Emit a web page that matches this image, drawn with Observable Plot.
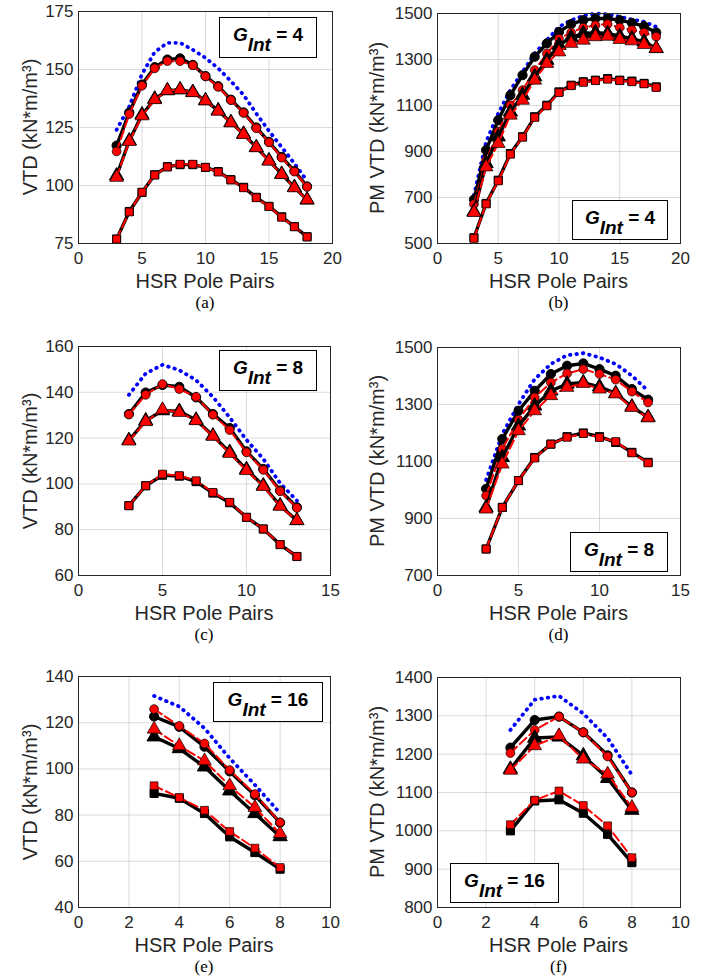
<!DOCTYPE html>
<html>
<head>
<meta charset="utf-8">
<script src="https://cdn.jsdelivr.net/npm/d3@7"></script>
<script src="https://cdn.jsdelivr.net/npm/@observablehq/plot@0.6"></script>
<style>
  body { margin: 0; background: #fff; }
  #page { position: relative; width: 710px; height: 979px; overflow: hidden; background: #fff;
          font-family: "Liberation Sans", Arial, sans-serif; }
  .panel { position: absolute; }
  .xlab, .ylab { position: absolute; font-size: 20px; color: #262626;
                 text-align: center; white-space: nowrap; }
  .xlab { line-height: 15px; }
  .ylab { width: 300px; line-height: 20px; transform: rotate(-90deg); }
  .caption { position: absolute; width: 60px; text-align: center; font-size: 17px; line-height: 14px;
             font-family: "Liberation Serif", "Times New Roman", serif; color: #000; }
  .gbox { position: absolute; box-sizing: border-box; border: 1.5px solid #000; background: #fff;
          display: flex; justify-content: center; align-items: flex-start; padding-top: 7px;
          font-weight: bold; font-size: 19px; line-height: 19px; color: #000; white-space: pre; }
  .gbox .g { font-style: italic; }
  .gbox .sub { font-style: italic; position: relative; top: 10px; }
</style>
</head>
<body>
<div id="page"></div>
<script>
// ---------------- data ----------------
const xLabel = "HSR Pole Pairs";
const vtdLabel = "VTD (kN*m/m³)";
const pmLabel = "PM VTD (kN*m/m³)";

// G_Int = 4
const x4 = [3,4,5,6,7,8,9,10,11,12,13,14,15,16,17,18];
const xTicks4 = [0,5,10,15,20];
const aTicks = [75,100,125,150,175];
const aBlue        = [124,134,148,157.5,161.5,161.5,158.5,155,150.5,145,139,131,123.5,116.5,109.5,102];
const aBlackCircle = [117.2,131.5,143.5,151,154.3,154.8,152,147.2,142.8,137,131.5,125,118.8,112.3,106.2,99.6];
const aRedCircle   = [114.7,130.8,143,150.5,153.6,153.6,151.8,147,142.5,136.8,131.3,124.7,118.6,112,106,99.4];
const aBlackTri    = [104.2,119.3,130.5,137.3,140.9,141.3,140.2,136.6,132.3,127.2,122.2,116.4,110.7,104.9,99.2,93.8];
const aRedTri      = [103.5,119,130,137,140.9,141.3,140,136.5,132,127,122,116.3,110.5,104.7,99,93.8];
const aBlackSq     = [76.9,88.8,97,104.6,108.1,109,109,107.8,106,102.5,99.2,94.9,91,86.5,82.3,77.9];
const aRedSq       = [76.9,88.6,97.1,104.5,108,109.2,109.2,107.8,105.8,102.4,99,94.7,90.9,86.3,82.2,77.8];

const bTicks = [500,700,900,1100,1300,1500];
const bBlue        = [710,942,1065,1167,1246,1326,1384,1442,1471,1490,1500,1497,1486,1474,1464,1442];
const bBlackCircle = [691,906,1036,1145,1232,1312,1370,1420,1454,1471,1478,1478,1471,1459,1445,1417];
const bRedCircle   = [671,862,986,1101,1167,1254,1326,1391,1417,1439,1449,1454,1439,1428,1417,1399];
const bBlackTri    = [638,848,964,1072,1145,1225,1297,1362,1396,1413,1417,1413,1401,1391,1377,1348];
const bRedTri      = [635,833,935,1058,1123,1210,1283,1333,1370,1384,1399,1401,1387,1381,1365,1348];
const bBlackSq     = [525,674,775,891,964,1051,1101,1159,1188,1203,1210,1217,1210,1206,1196,1181];
const bRedSq       = [522,672,772,888,962,1048,1098,1156,1186,1201,1208,1214,1208,1203,1194,1178];

// G_Int = 8
const x8 = [3,4,5,6,7,8,9,10,11,12,13];
const xTicks8 = [0,5,10,15];
const cTicks = [60,80,100,120,140,160];
const cBlue        = [138.9,148.2,152,149.7,145.3,138,129,119.2,110.9,100.3,92.7];
const cBlackCircle = [130.5,139.9,143.2,142.4,137.8,130.5,124.4,114.2,106.5,97.1,89.8];
const cRedCircle   = [130.3,138.9,143.6,141.4,138,130.2,123.5,113.8,106.1,96.8,89.5];
const cBlackTri    = [119,127.6,132,131.7,127.9,121,113.8,106.3,99.2,90.5,84];
const cRedTri      = [118.7,127.2,132.4,131.2,127.6,120.8,113.3,105.8,98.9,90.2,84];
const cBlackSq     = [90.5,99.2,103.8,103.4,101,96,91.8,85.4,80.3,73.5,68.3];
const cRedSq       = [90.5,99.2,104.3,103.6,101.4,96.3,92,85.4,80.3,73.5,68.3];

const dTicks = [700,900,1100,1300,1500];
const dBlue        = [1035,1196,1301,1389,1442,1473,1480,1465,1442,1401,1348];
const dBlackCircle = [1004,1179,1278,1348,1407,1436,1444,1424,1401,1354,1317];
const dRedCircle   = [980,1144,1246,1325,1377,1409,1424,1407,1387,1345,1307];
const dBlackTri    = [938,1114,1225,1295,1348,1372,1377,1362,1339,1292,1255];
const dRedTri      = [933,1091,1208,1278,1331,1360,1374,1354,1337,1290,1253];
const dBlackSq     = [793,939,1033,1114,1161,1187,1200,1187,1167,1132,1097];
const dRedSq       = [793,939,1033,1112,1161,1185,1198,1184,1170,1130,1095];

// G_Int = 16
const x16 = [3,4,5,6,7,8];
const xTicks16 = [0,2,4,6,8,10];
const eTicks = [40,60,80,100,120,140];
const eBlue        = [131.6,127,117.6,104.6,93.1,80.8];
const eBlackCircle = [122.7,118.2,109.6,98.9,88.6,76.7];
const eRedCircle   = [125.9,118.6,111,99.5,89.1,76.8];
const eBlackTri    = [113.9,108.8,100.9,90.5,80.7,70.7];
const eRedTri      = [117.2,110,103.5,92.7,83.3,72];
const eBlackSq     = [89.4,87.3,80.7,70.6,63.8,56.6];
const eRedSq       = [92.7,87.6,82.1,72.9,65.7,57.3];

const fTicks = [800,900,1000,1100,1200,1300,1400];
const fBlue        = [1263,1342,1352,1306,1242,1146];
const fBlackCircle = [1217,1289,1298,1257,1197,1100];
const fRedCircle   = [1203,1263,1298,1257,1194,1100];
const fBlackTri    = [1161,1242,1245,1196,1137,1054];
const fRedTri      = [1158,1222,1248,1187,1148,1061];
const fBlackSq     = [1000,1078,1081,1046,991,917];
const fRedSq       = [1016,1080,1104,1066,1013,930];

// ---------------- layout ----------------
const panels = [
  { cap: "(a)", g: "4",  xs: x4,  xTicks: xTicks4,  yTicks: aTicks, yLabel: vtdLabel,
    s: [aBlue,aBlackCircle,aRedCircle,aBlackTri,aRedTri,aBlackSq,aRedSq],
    left: 0, top: 0, f: {l:78,t:11,r:332,b:243}, box: {l:219,t:17,w:98,h:41}, ylx: 29.6 },
  { cap: "(b)", g: "4",  xs: x4,  xTicks: xTicks4,  yTicks: bTicks, yLabel: pmLabel,
    s: [bBlue,bBlackCircle,bRedCircle,bBlackTri,bRedTri,bBlackSq,bRedSq],
    left: 355, top: 0, f: {l:437,t:13,r:680,b:243}, box: {l:572,t:200,w:96,h:40}, ylx: 377 },
  { cap: "(c)", g: "8",  xs: x8,  xTicks: xTicks8,  yTicks: cTicks, yLabel: vtdLabel,
    s: [cBlue,cBlackCircle,cRedCircle,cBlackTri,cRedTri,cBlackSq,cRedSq],
    left: 0, top: 320, f: {l:78,t:346,r:330,b:575}, box: {l:219,t:350,w:98,h:41}, ylx: 29.6 },
  { cap: "(d)", g: "8",  xs: x8,  xTicks: xTicks8,  yTicks: dTicks, yLabel: pmLabel,
    s: [dBlue,dBlackCircle,dRedCircle,dBlackTri,dRedTri,dBlackSq,dRedSq],
    left: 355, top: 320, f: {l:437,t:347,r:680,b:575}, box: {l:570,t:532,w:98,h:40}, ylx: 377 },
  { cap: "(e)", g: "16", xs: x16, xTicks: xTicks16, yTicks: eTicks, yLabel: vtdLabel,
    s: [eBlue,eBlackCircle,eRedCircle,eBlackTri,eRedTri,eBlackSq,eRedSq],
    left: 0, top: 650, f: {l:78,t:676,r:330,b:907}, box: {l:213,t:682,w:110,h:40}, ylx: 29.6 },
  { cap: "(f)", g: "16", xs: x16, xTicks: xTicks16, yTicks: fTicks, yLabel: pmLabel,
    s: [fBlue,fBlackCircle,fRedCircle,fBlackTri,fRedTri,fBlackSq,fRedSq],
    left: 355, top: 650, f: {l:437,t:677,r:680,b:907}, box: {l:450,t:863,w:109,h:40}, ylx: 377 }
];

const rows = (xs, ys) => xs.map((x, i) => ({x, y: ys[i]}));
const page = document.getElementById("page");

for (const p of panels) {
  const [blue, bc, rc, bt, rt, bs, rs] = p.s.map(ys => rows(p.xs, ys));
  const W = 355, bottomMargin = 30;
  const H = p.f.b - p.top + bottomMargin;
  const blackLine = {x: "x", y: "y", stroke: "#000", strokeWidth: 3.4};
  const redLine = {x: "x", y: "y", stroke: "#ff0000", strokeWidth: 2, strokeDasharray: "9,4"};
  const blackDot = (sym, r) => ({x: "x", y: "y", symbol: sym, r, fill: "#000", stroke: "#000", strokeWidth: 1});
  const redDot = (sym, r) => ({x: "x", y: "y", symbol: sym, r, fill: "#ff0000", stroke: "#000", strokeWidth: 0.7});

  const chart = Plot.plot({
    width: W,
    height: H,
    marginLeft: p.f.l - p.left,
    marginRight: p.left + W - p.f.r,
    marginTop: p.f.t - p.top,
    marginBottom: bottomMargin,
    style: {fontFamily: "'Liberation Sans', Arial, sans-serif", fontSize: "17px", color: "#262626", background: "transparent", overflow: "visible"},
    x: {domain: [p.xTicks[0], p.xTicks[p.xTicks.length - 1]]},
    y: {domain: [p.yTicks[0], p.yTicks[p.yTicks.length - 1]]},
    marks: [
      Plot.gridX(p.xTicks, {stroke: "#000", strokeOpacity: 0.14, strokeWidth: 1}),
      Plot.gridY(p.yTicks, {stroke: "#000", strokeOpacity: 0.14, strokeWidth: 1}),
      Plot.axisX(p.xTicks, {tickSize: 0, tickPadding: 8, label: null, fontSize: 17, fill: "#262626", tickFormat: d => String(d)}),
      Plot.axisY(p.yTicks, {tickSize: 0, tickPadding: 5, label: null, fontSize: 17, fill: "#262626", tickFormat: d => String(d)}),
      Plot.line(blue, {x: "x", y: "y", stroke: "#0000ff", strokeWidth: 3.8, strokeDasharray: "0.5,6", strokeLinecap: "round"}),
      Plot.line(bc, blackLine), Plot.dot(bc, blackDot("circle", 4.6)),
      Plot.line(rc, redLine),   Plot.dot(rc, redDot("circle", 4.4)),
      Plot.line(bt, blackLine), Plot.dot(bt, blackDot("triangle", 5.3)),
      Plot.line(rt, redLine),   Plot.dot(rt, redDot("triangle", 5.1)),
      Plot.line(bs, blackLine), Plot.dot(bs, blackDot("square", 4.6)),
      Plot.line(rs, redLine),   Plot.dot(rs, redDot("square", 4.4)),
      Plot.frame({stroke: "#262626", strokeWidth: 1})
    ]
  });
  const holder = document.createElement("div");
  holder.className = "panel";
  holder.style.left = p.left + "px";
  holder.style.top = p.top + "px";
  holder.appendChild(chart);
  page.appendChild(holder);

  const cx = (p.f.l + p.f.r) / 2, cy = (p.f.t + p.f.b) / 2;

  const xl = document.createElement("div");
  xl.className = "xlab";
  xl.textContent = xLabel;
  xl.style.width = "200px";
  xl.style.left = (cx - 100) + "px";
  xl.style.top = (p.f.b + 31) + "px";
  page.appendChild(xl);

  const yl = document.createElement("div");
  yl.className = "ylab";
  yl.textContent = p.yLabel;
  yl.style.left = (p.ylx - 150) + "px";
  yl.style.top = (cy - 10) + "px";
  page.appendChild(yl);

  const cap = document.createElement("div");
  cap.className = "caption";
  cap.textContent = p.cap;
  cap.style.left = (cx - 30) + "px";
  cap.style.top = (p.f.b + 52.5) + "px";
  page.appendChild(cap);

  const box = document.createElement("div");
  box.className = "gbox";
  box.style.left = p.box.l + "px";
  box.style.top = p.box.t + "px";
  box.style.width = p.box.w + "px";
  box.style.height = p.box.h + "px";
  box.innerHTML = '<span class="g">G</span><span class="sub">Int</span><span> = ' + p.g + '</span>';
  page.appendChild(box);
}
</script>
</body>
</html>
